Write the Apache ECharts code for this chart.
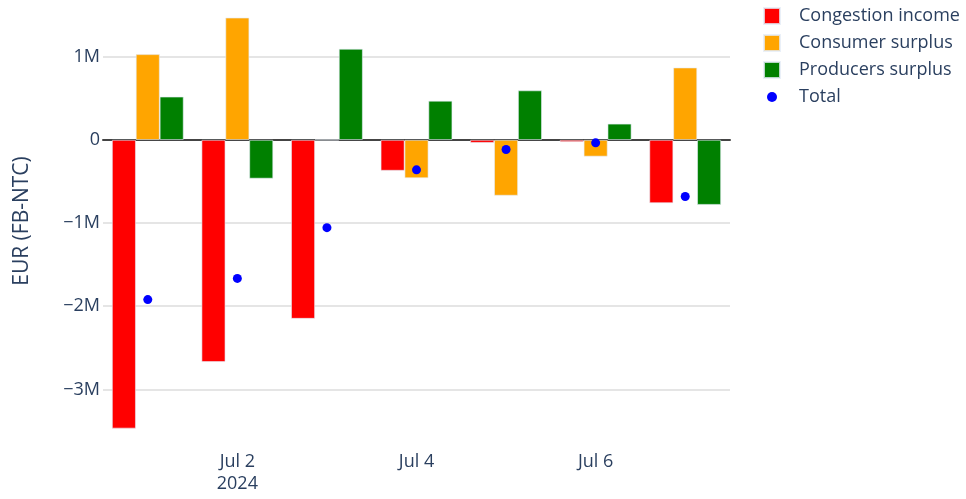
<!DOCTYPE html>
<html>
<head>
<meta charset="utf-8">
<script src="https://cdn.jsdelivr.net/npm/echarts@6/dist/echarts.min.js"></script>
<style>
  html, body { margin: 0; padding: 0; background: #fff; }
  #chart { width: 966px; height: 499px; }
</style>
</head>
<body>
<div id="chart"></div>
<script>
// daily welfare split, EUR (FB-NTC)
const dates = ['2024-07-01', '2024-07-02', '2024-07-03', '2024-07-04', '2024-07-05', '2024-07-06', '2024-07-07'];
const xTickLabels = ['', 'Jul 2\n2024', '', 'Jul 4', '', 'Jul 6', ''];
const congestionIncome = [-3470000, -2670000, -2150000, -370000, -35000, -25000, -760000];
const consumerSurplus = [1030000, 1470000, 0, -460000, -670000, -200000, 870000];
const producersSurplus = [520000, -465000, 1095000, 470000, 595000, 195000, -780000];
const total = [-1920000, -1665000, -1055000, -360000, -115000, -35000, -680000];

const textColor = '#2a3f5f';
const font = '"Open Sans", "Liberation Sans", Arial, sans-serif';

function fmtM(v) {
  if (v === 0) return '0';
  if (v % 1000000 !== 0) return '';
  return (v < 0 ? '\u2212' : '') + Math.abs(v / 1000000) + 'M';
}

const chart = echarts.init(document.getElementById('chart'));

chart.setOption({
  animation: false,
  textStyle: { fontFamily: font },
  grid: { left: 103, right: 236, top: 11, bottom: 68 },
  legend: {
    orient: 'vertical',
    left: 758,
    top: 2,
    itemWidth: 16,
    itemHeight: 16,
    itemGap: 9,
    textStyle: { fontSize: 18, color: textColor, fontFamily: font, padding: [0, 0, 0, 14] },
    data: [
      { name: 'Congestion income', icon: 'rect' },
      { name: 'Consumer surplus', icon: 'rect' },
      { name: 'Producers surplus', icon: 'rect' },
      { name: 'Total', icon: 'path://M0,0M16,16M3,8a5,5 0 1,0 10,0a5,5 0 1,0 -10,0z' },
    ],
  },
  xAxis: [
    {
      type: 'category',
      data: dates,
      axisLine: { show: false },
      axisTick: { show: false },
      axisLabel: {
        interval: 0,
        margin: 20,
        fontSize: 18,
        lineHeight: 22,
        color: textColor,
        formatter: (v, i) => xTickLabels[i],
      },
    },
    {
      // zero line only
      type: 'category',
      data: dates,
      position: 'bottom',
      axisLine: { show: true, onZero: true, onZeroAxisIndex: 0, lineStyle: { color: '#444', width: 2 } },
      axisTick: { show: false },
      axisLabel: { show: false },
      splitLine: { show: false },
    },
  ],
  yAxis: {
    type: 'value',
    min: -3500000,
    max: 1550000,
    name: 'EUR (FB-NTC)',
    nameLocation: 'middle',
    nameGap: 70,
    nameTextStyle: { fontSize: 21, color: textColor },
    axisLine: { show: false },
    axisTick: { show: false },
    axisLabel: { margin: 3, fontSize: 18, color: textColor, formatter: fmtM, showMinLabel: false, showMaxLabel: false },
    splitLine: { show: true, showMinLine: false, showMaxLine: false, lineStyle: { color: '#dcdcdc', width: 1.5 } },
  },
  series: [
    {
      name: 'Congestion income',
      type: 'bar',
      data: congestionIncome,
      barGap: 0,
      barCategoryGap: '20%',
      itemStyle: { color: '#ff0000', borderColor: 'rgba(229,236,246,0.8)', borderWidth: 0.75 },
    },
    {
      name: 'Consumer surplus',
      type: 'bar',
      data: consumerSurplus,
      barGap: 0,
      barCategoryGap: '20%',
      itemStyle: { color: '#ffa500', borderColor: 'rgba(229,236,246,0.8)', borderWidth: 0.75 },
    },
    {
      name: 'Producers surplus',
      type: 'bar',
      data: producersSurplus,
      barGap: 0,
      barCategoryGap: '20%',
      itemStyle: { color: '#008000', borderColor: 'rgba(229,236,246,0.8)', borderWidth: 0.75 },
    },
    {
      name: 'Total',
      type: 'scatter',
      data: total,
      symbol: 'circle',
      symbolSize: 9,
      z: 5,
      itemStyle: { color: '#0000ff', opacity: 1 },
    },
  ],
});
</script>
</body>
</html>
